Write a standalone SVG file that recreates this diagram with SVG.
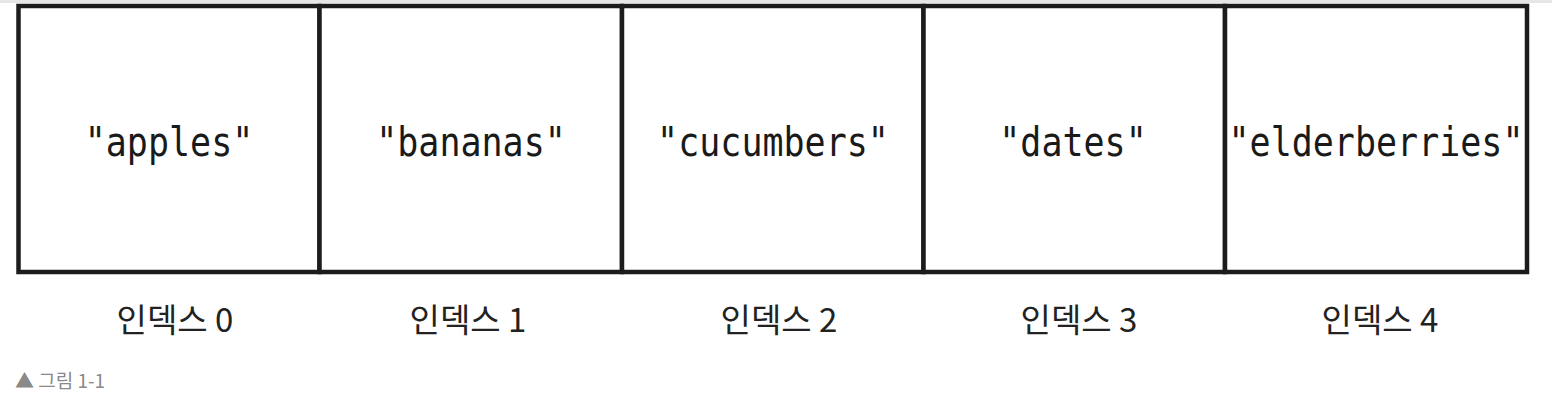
<svg xmlns="http://www.w3.org/2000/svg" width="1552" height="406" viewBox="0 0 1552 406">
<style>
.cell{fill:#ffffff;stroke:#1c1c1c;stroke-width:4.5}
.val{font-family:"DejaVu Sans Mono","Liberation Mono",monospace;font-size:35px;fill:#1a1a1a;text-anchor:middle}
.idx{font-family:"Noto Sans CJK KR","Noto Sans",sans-serif;font-size:33px;fill:#222222;text-anchor:middle}
.cap{font-family:"Noto Sans CJK KR","Noto Sans",sans-serif;font-size:19px;fill:#8a8a8a}
</style>
<rect x="0" y="0" width="1552" height="3" fill="#e6e6e6"/>
<g id="cell0"><rect class="cell" x="18.5" y="6" width="301" height="266"/><text class="val" transform="translate(169 156) scale(1 1.171)">"apples"</text><text class="idx" x="175" y="332">인덱스 0</text></g>
<g id="cell1"><rect class="cell" x="319.5" y="6" width="302.5" height="266"/><text class="val" transform="translate(471 156) scale(1 1.171)">"bananas"</text><text class="idx" x="468" y="332">인덱스 1</text></g>
<g id="cell2"><rect class="cell" x="622" y="6" width="301.5" height="266"/><text class="val" transform="translate(773 156) scale(1 1.171)">"cucumbers"</text><text class="idx" x="779" y="332">인덱스 2</text></g>
<g id="cell3"><rect class="cell" x="923.5" y="6" width="301.5" height="266"/><text class="val" transform="translate(1073 156) scale(1 1.171)">"dates"</text><text class="idx" x="1079" y="332">인덱스 3</text></g>
<g id="cell4"><rect class="cell" x="1225" y="6" width="302" height="266"/><text class="val" transform="translate(1376 156) scale(1 1.171)">"elderberries"</text><text class="idx" x="1380" y="332">인덱스 4</text></g>
<g id="connectors"></g>
<text class="cap" x="15" y="388">▲ 그림 1-1</text>
</svg>
